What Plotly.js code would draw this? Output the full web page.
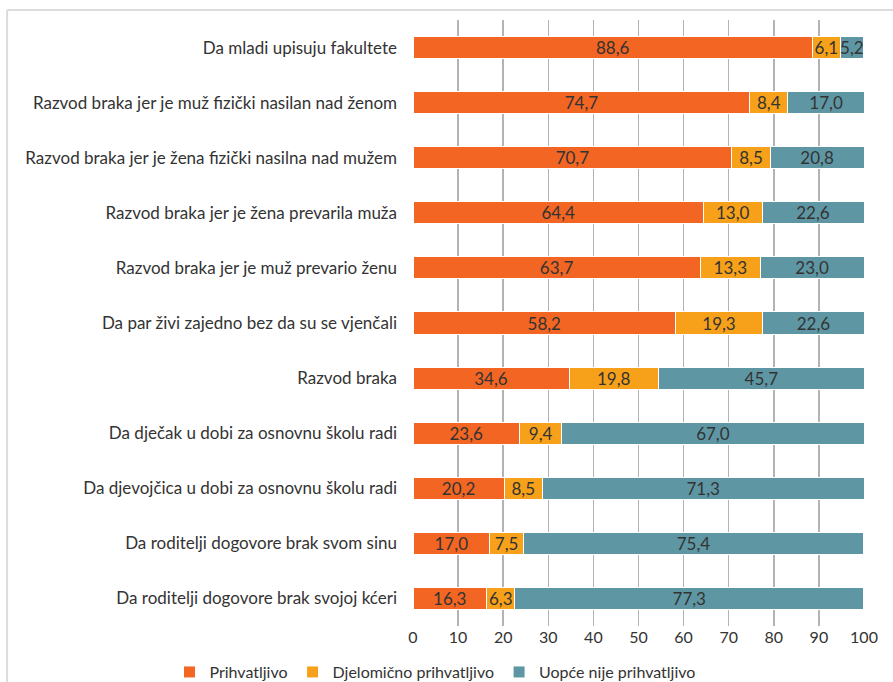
<!DOCTYPE html>
<html>
<head>
<meta charset="utf-8">
<script src="https://cdn.plot.ly/plotly-3.0.1.min.js"></script>
<style>
html,body{margin:0;padding:0;background:#fff;}
#chart{width:893px;height:682px;}
</style>
</head>
<body>
<div id="chart"></div>
<script>
const categories = [
  "Da mladi upisuju fakultete",
  "Razvod braka jer je muž fizički nasilan nad ženom",
  "Razvod braka jer je žena fizički nasilna nad mužem",
  "Razvod braka jer je žena prevarila muža",
  "Razvod braka jer je muž prevario ženu",
  "Da par živi zajedno bez da su se vjenčali",
  "Razvod braka",
  "Da dječak u dobi za osnovnu školu radi",
  "Da djevojčica u dobi za osnovnu školu radi",
  "Da roditelji dogovore brak svom sinu",
  "Da roditelji dogovore brak svojoj kćeri"
];
const prihvatljivo = [88.6, 74.7, 70.7, 64.4, 63.7, 58.2, 34.6, 23.6, 20.2, 17.0, 16.3];
const djelomicno  = [6.1, 8.4, 8.5, 13.0, 13.3, 19.3, 19.8, 9.4, 8.5, 7.5, 6.3];
const uopce       = [5.2, 17.0, 20.8, 22.6, 23.0, 22.6, 45.7, 67.0, 71.3, 75.4, 77.3];
const seriesNames = ["Prihvatljivo", "Djelomično prihvatljivo", "Uopće nije prihvatljivo"];
const tickVals = [0,10,20,30,40,50,60,70,80,90,100];

const colors = ["#F26522", "#F7A11A", "#5E97A3"];
const fmt = v => v.toFixed(1).replace('.', ',');
const FONT = 'Lato, sans-serif';

const data = [prihvatljivo, djelomicno, uopce].map((vals, i) => ({
  type: 'bar',
  orientation: 'h',
  name: seriesNames[i],
  y: categories,
  x: vals,
  text: vals.map(fmt),
  textposition: 'inside',
  insidetextanchor: 'middle',
  textangle: 0,
  constraintext: 'none',
  textfont: {family: FONT, size: 17, color: '#333333'},
  marker: {color: colors[i], line: {color: '#ffffff', width: 1}},
  hoverinfo: 'skip'
}));

const layout = {
  width: 893,
  height: 682,
  barmode: 'stack',
  bargap: 0.6,
  margin: {l: 413, r: 29, t: 20, b: 56, autoexpand: false},
  paper_bgcolor: '#ffffff',
  plot_bgcolor: '#ffffff',
  font: {family: FONT, size: 16, color: '#333333'},
  showlegend: true,
  legend: {
    orientation: 'h',
    x: -0.54, xanchor: 'left',
    y: -0.076, yanchor: 'middle',
    font: {family: FONT, size: 16, color: '#333333'},
    traceorder: 'normal',
    itemwidth: 30
  },
  xaxis: {
    range: [0, 100],
    tickvals: tickVals,
    ticktext: tickVals.map(String),
    showgrid: true,
    gridcolor: '#b3b3b3',
    gridwidth: 1.5,
    zeroline: false,
    showline: false,
    ticks: '',
    tickfont: {family: FONT, size: 16, color: '#333333'},
    fixedrange: true
  },
  yaxis: {
    type: 'category',
    autorange: 'reversed',
    showgrid: false,
    zeroline: false,
    showline: false,
    ticks: '',
    ticklabelstandoff: 15,
    tickfont: {family: FONT, size: 17, color: '#333333'},
    fixedrange: true
  },
  shapes: [
    {type: 'line', xref: 'paper', yref: 'paper', x0: -0.9, x1: -0.9, y0: 1.0165, y1: -0.2, line: {color: '#dcdcdc', width: 2}},
    {type: 'line', xref: 'paper', yref: 'paper', x0: -0.9, x1: 1.1, y0: 1.0165, y1: 1.0165, line: {color: '#dcdcdc', width: 2}}
  ]
};

Plotly.newPlot('chart', data, layout, {displayModeBar: false, staticPlot: true});
</script>
</body>
</html>
